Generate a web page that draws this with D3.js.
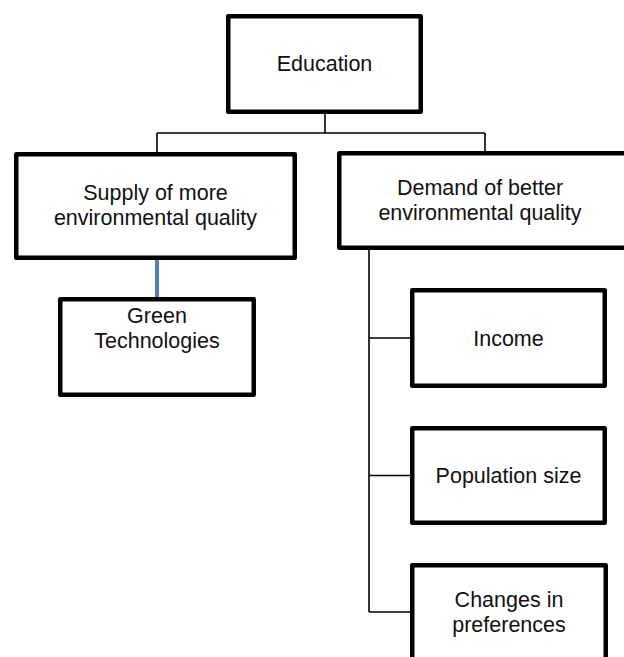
<!DOCTYPE html>
<html><head><meta charset="utf-8">
<script src="https://cdn.jsdelivr.net/npm/d3@7"></script>
<style>html,body{margin:0;padding:0;background:#fff;overflow:hidden}</style>
</head><body>
<svg id="c" width="624" height="657"></svg>
<script>
// ---- data ----
const nodeIds = ["edu","supply","demand","green","income","pop","pref"];
const nodeLabels = [
  ["Education"],
  ["Supply of more","environmental quality"],
  ["Demand of better","environmental quality"],
  ["Green","Technologies"],
  ["Income"],
  ["Population size"],
  ["Changes in","preferences"]
];
const nodeParents = [null,"edu","edu","supply","demand","demand","demand"];

// ---- layout (outer box bounds) ----
const layout = {
  edu:    {x0:226,x1:423,y0:14, y1:114, ty:[71]},
  supply: {x0:14, x1:297,y0:152,y1:260, ty:[200,225]},
  demand: {x0:337,x1:650,y0:151,y1:250, ty:[195,220], tx:480},
  green:  {x0:58, x1:256,y0:297,y1:397, ty:[323,348]},
  income: {x0:410,x1:607,y0:288,y1:388, ty:[346]},
  pop:    {x0:410,x1:607,y0:426,y1:525, ty:[483]},
  pref:   {x0:410,x1:608,y0:563,y1:665, ty:[607,632]}
};
const SW = 4.5;
const svg = d3.select("#c");
const nodes = nodeIds.map((id,i)=>({id, label:nodeLabels[i], parent:nodeParents[i], ...layout[id]}));
const byId = Object.fromEntries(nodes.map(n=>[n.id,n]));

const lines = svg.append("g").attr("stroke","#000").attr("stroke-width",1.6).attr("fill","none");
// Education -> level 1
const edu = byId.edu;
const eduX = (edu.x0+edu.x1)/2 + 0.5;
const busY = 133;
lines.append("line").attr("x1",eduX).attr("x2",eduX).attr("y1",edu.y1).attr("y2",busY);
const l1 = nodes.filter(n=>n.parent==="edu");
const l1x = {supply:157, demand:485};
lines.append("line").attr("x1",l1x.supply).attr("x2",l1x.demand).attr("y1",busY).attr("y2",busY);
l1.forEach(n=>{
  lines.append("line").attr("x1",l1x[n.id]).attr("x2",l1x[n.id]).attr("y1",busY).attr("y2",n.y0);
});
// Supply -> Green (blue)
const sup = byId.supply, gr = byId.green;
svg.append("line").attr("x1",157).attr("x2",157).attr("y1",sup.y1).attr("y2",gr.y0)
  .attr("stroke","#4f81bd").attr("stroke-width",4);
// Demand -> children (elbow)
const dem = byId.demand;
const spineX = 369;
const dkids = nodes.filter(n=>n.parent==="demand");
const mids = dkids.map(n=>n.id==="pref"?612:(n.y0+n.y1)/2);
lines.append("line").attr("x1",spineX).attr("x2",spineX).attr("y1",dem.y1).attr("y2",d3.max(mids));
dkids.forEach((n,i)=>{
  lines.append("line").attr("x1",spineX).attr("x2",n.x0).attr("y1",mids[i]).attr("y2",mids[i]);
});

// boxes
const g = svg.append("g").selectAll("g").data(nodes).join("g");
g.append("rect")
  .attr("x",d=>d.x0+SW/2).attr("y",d=>d.y0+SW/2)
  .attr("width",d=>d.x1-d.x0-SW).attr("height",d=>d.y1-d.y0-SW)
  .attr("fill","#fff").attr("stroke","#000").attr("stroke-width",SW)
  .attr("stroke-linejoin","round");
g.each(function(d){
  const cx = d.tx!==undefined ? d.tx : (d.x0+d.x1)/2;
  d.label.forEach((t,i)=>{
    d3.select(this).append("text").attr("x",cx).attr("y",d.ty[i])
      .attr("text-anchor","middle")
      .attr("font-family","'Liberation Sans', Arial, sans-serif")
      .attr("font-size",21.5).attr("fill","#111").text(t);
  });
});
</script>
</body></html>
